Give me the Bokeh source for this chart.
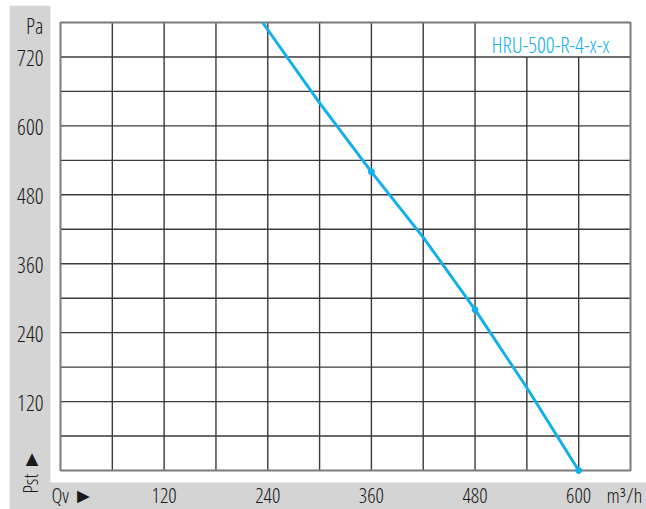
from bokeh.plotting import figure
from bokeh.models import Range1d, FixedTicker, Label
from bokeh.embed import file_html
from bokeh.resources import INLINE
import math

# ---- data ----
flow = [234, 298, 360, 420, 480, 540, 600]          # m³/h
pressure = [780, 644, 520, 406, 280, 144, 0]         # Pa
marker_flow = [360, 480, 600]
marker_pressure = [520, 280, 0]

x_grid = list(range(0, 661, 60))
y_grid = list(range(0, 781, 60))
x_ticks = [120, 240, 360, 480, 600]
y_ticks = [120, 240, 360, 480, 600, 720]
series_name = "HRU-500-R-4-x-x"
name_cell_x = [480, 660]     # merged grid cell holding the series name
name_cell_y = [720, 780]

FONT = "Open Sans Condensed Light"
TXT = "#1a1a1a"
BLUE = "#12b0ea"
GREY = "#d4d4d4"

# canvas geometry (figure placed at page (9,5)); frame = whole canvas
W, H = 637, 504
sx = 570 / 660.0
sy = 448 / 780.0
ox, oy = 51, 465
x0, x1 = -ox / sx, 660 + (W - 621) / sx
y0, y1 = -(H - oy) / sy, 780 + 17 / sy
band_x = -(ox - 41) / sx
band_y = -(477 - oy) / sy

p = figure(width=W, height=H, output_backend="svg", toolbar_location=None,
           x_range=Range1d(x0, x1), y_range=Range1d(y0, y1),
           min_border=0, margin=(5, 0, 0, 9))
p.border_fill_color = "white"
p.background_fill_color = "white"
p.outline_line_color = None
p.xgrid.visible = False
p.ygrid.visible = False

# grey label bands
p.quad(left=[x0, x0], right=[band_x, x1], bottom=[y0, y0], top=[y1, band_y],
       fill_color=GREY, line_color=None)

# grid (vertical lines stop under the merged name cell) and plot box
gx = x_grid[1:-1]
gx_top = [name_cell_y[0] if name_cell_x[0] < g < name_cell_x[1] else y_grid[-1] for g in gx]
gy = y_grid[1:-1]
p.segment(x0=gx, y0=[y_grid[0]] * len(gx), x1=gx, y1=gx_top,
          line_color="#3a3a3a", line_width=1.4)
p.segment(x0=[x_grid[0]] * len(gy), y0=gy, x1=[x_grid[-1]] * len(gy), y1=gy,
          line_color="#3a3a3a", line_width=1.4)
p.quad(left=[x_grid[0]], right=[x_grid[-1]], bottom=[y_grid[0]], top=[y_grid[-1]],
       fill_color=None, line_color="#7a7a7a", line_width=2)

# curve
p.line(flow, pressure, line_color=BLUE, line_width=3)
p.scatter(marker_flow, marker_pressure, size=6, color=BLUE)

# axes pinned to the band edges
xt = [14] + x_ticks + [653]
p.xaxis.ticker = FixedTicker(ticks=xt)
ovx = {t: str(t) for t in x_ticks}
ovx[14] = "Qv ►"
ovx[653] = "m³/h"
p.xaxis.major_label_overrides = ovx
p.xaxis.fixed_location = band_y
yt = y_ticks + [776]
p.yaxis.ticker = FixedTicker(ticks=yt)
ovy = {t: str(t) for t in y_ticks}
ovy[776] = "Pa"
p.yaxis.major_label_overrides = ovy
p.yaxis.fixed_location = band_x

for ax in (p.xaxis[0], p.yaxis[0]):
    ax.axis_line_color = None
    ax.major_tick_line_color = None
    ax.minor_tick_line_color = None
    ax.major_tick_out = 0
    ax.major_tick_in = 0
    ax.major_label_text_font = FONT
    ax.major_label_text_color = TXT
p.xaxis.major_label_text_font_size = "21px"
p.xaxis.major_label_standoff = -2
p.yaxis.major_label_text_font_size = "22px"
p.yaxis.major_label_standoff = 7

p.add_layout(Label(x=(20 - ox) / sx, y=(oy - 466) / sy, text="Pst ►",
                   angle=math.pi / 2, text_align="center", text_baseline="middle",
                   text_font=FONT, text_font_size="21px", text_color=TXT))
p.add_layout(Label(x=(600 - ox) / sx, y=(oy - 38) / sy, text=series_name,
                   text_align="right", text_baseline="middle",
                   text_font=FONT, text_font_size="22px", text_color=BLUE))

open("out.html", "w").write(file_html(p, INLINE))
